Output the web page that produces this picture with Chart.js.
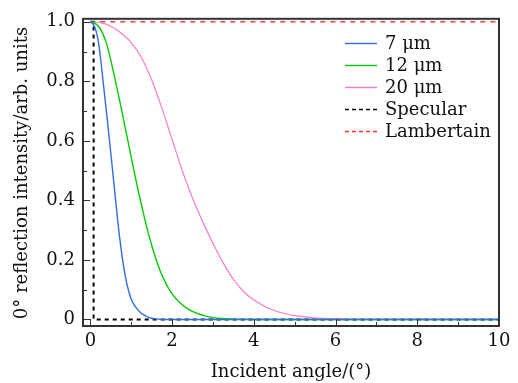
<!DOCTYPE html>
<html>
<head>
<meta charset="utf-8">
<script src="https://cdn.jsdelivr.net/npm/chart.js@4/dist/chart.umd.min.js"></script>
<style>
  html, body { margin: 0; padding: 0; background: #fff; }
  #wrap { width: 518px; height: 383px; }
</style>
</head>
<body>
<div id="wrap"><canvas id="c" width="518" height="383"></canvas></div>
<script>
// ---- data ----
const angles7 = [0, 0.1, 0.2, 0.3, 0.4, 0.5, 0.6, 0.7, 0.8, 0.9, 1.0, 1.1, 1.2, 1.3, 1.4, 1.5, 1.6, 1.8, 2.0, 10];
const intensity7 = [1.0, 0.985, 0.93, 0.815, 0.69, 0.56, 0.425, 0.295, 0.19, 0.115, 0.068, 0.043, 0.027, 0.016, 0.009, 0.004, 0.002, 0.0, 0.0, 0.0];

const angles12 = [0, 0.2, 0.4, 0.6, 0.8, 1.0, 1.2, 1.4, 1.6, 1.8, 2.0, 2.2, 2.4, 2.6, 2.8, 3.0, 3.2, 3.5, 4.0, 10];
const intensity12 = [1.0, 0.985, 0.925, 0.81, 0.68, 0.545, 0.415, 0.3, 0.205, 0.134, 0.086, 0.055, 0.034, 0.021, 0.012, 0.006, 0.003, 0.001, 0.0, 0.0];

const angles20 = [0, 0.25, 0.5, 0.75, 1.0, 1.25, 1.5, 1.75, 2.0, 2.25, 2.5, 2.75, 3.0, 3.25, 3.5, 3.75, 4.0, 4.25, 4.5, 4.75, 5.0, 5.5, 6.0, 6.5, 7.0, 10];
const intensity20 = [1.0, 0.997, 0.985, 0.962, 0.93, 0.88, 0.805, 0.71, 0.605, 0.50, 0.408, 0.328, 0.256, 0.19, 0.135, 0.094, 0.065, 0.045, 0.030, 0.020, 0.013, 0.005, 0.0018, 0.0005, 0.0, 0.0];

const anglesSpecular = [0, 0.08, 0.08, 10];
const intensitySpecular = [1, 1, 0, 0];

const anglesLambert = [0, 10];
const intensityLambert = [1, 1];

const seriesLabels = ['7 μm', '12 μm', '20 μm', 'Specular', 'Lambertain'];

const xMajorTicks = [0, 2, 4, 6, 8, 10];
const xMinorTicks = [1, 3, 5, 7, 9];
const yMajorTicks = [0, 0.2, 0.4, 0.6, 0.8, 1.0];
const yTickLabels = ['0', '0.2', '0.4', '0.6', '0.8', '1.0'];
const yMinorTicks = [0.1, 0.3, 0.5, 0.7, 0.9];

const xTitle = 'Incident angle/(°)';
const yTitle = '0° reflection intensity/arb. units';

// ---- build ----
const FONT = 'DejaVu Serif';
const FS = 18;
const toPts = (xs, ys) => xs.map((x, i) => ({ x: x, y: ys[i] }));

const datasets = [
  { label: seriesLabels[0], data: toPts(angles7, intensity7), borderColor: '#2f6fe0', borderWidth: 1.4, cubicInterpolationMode: 'monotone' },
  { label: seriesLabels[1], data: toPts(angles12, intensity12), borderColor: '#00cc00', borderWidth: 1.4, cubicInterpolationMode: 'monotone' },
  { label: seriesLabels[2], data: toPts(angles20, intensity20), borderColor: '#ff7ac4', borderWidth: 1.2, cubicInterpolationMode: 'monotone' },
  { label: seriesLabels[3], data: toPts(anglesSpecular, intensitySpecular), borderColor: '#000000', borderWidth: 2, borderDash: [4, 4], tension: 0 },
  { label: seriesLabels[4], data: toPts(anglesLambert, intensityLambert), borderColor: '#ff3030', borderWidth: 1.4, borderDash: [5, 5], tension: 0 }
].map(d => Object.assign({ pointRadius: 0, fill: false }, d));

const framePlugin = {
  id: 'frame',
  afterDraw(chart) {
    const ctx = chart.ctx, a = chart.chartArea;
    const xs = chart.scales.x, ys = chart.scales.y;
    ctx.save();
    ctx.strokeStyle = '#333';
    ctx.lineWidth = 1;
    const tick = (v, len, horiz) => {
      ctx.beginPath();
      if (horiz) {
        const px = Math.round(xs.getPixelForValue(v)) + 0.5;
        ctx.moveTo(px, a.bottom); ctx.lineTo(px, a.bottom - len);
      } else {
        const py = Math.round(ys.getPixelForValue(v)) + 0.5;
        ctx.moveTo(a.left, py); ctx.lineTo(a.left + len, py);
      }
      ctx.stroke();
    };
    xMajorTicks.forEach(v => tick(v, 7, true));
    xMinorTicks.forEach(v => tick(v, 4, true));
    yMajorTicks.forEach(v => tick(v, 7, false));
    yMinorTicks.forEach(v => tick(v, 4, false));
    ctx.lineWidth = 2;
    ctx.strokeRect(a.left, a.top, a.right - a.left, a.bottom - a.top);

    // y-axis title
    ctx.fillStyle = '#111';
    ctx.font = FS + 'px "' + FONT + '"';
    ctx.textAlign = 'center';
    ctx.textBaseline = 'middle';
    ctx.translate(22, 173);
    ctx.rotate(-Math.PI / 2);
    ctx.fillText(yTitle, 0, 0);
    ctx.restore();
  }
};

const legendPlugin = {
  id: 'innerLegend',
  afterDraw(chart) {
    const ctx = chart.ctx;
    const x0 = 345, x1 = 377, tx = 385;
    const y0 = 43, dy = 22;
    ctx.save();
    ctx.font = FS + 'px "' + FONT + '"';
    ctx.textBaseline = 'middle';
    chart.data.datasets.forEach((d, i) => {
      const y = Math.round(y0 + i * dy) + 0.5;
      ctx.beginPath();
      ctx.strokeStyle = d.borderColor;
      ctx.lineWidth = 1.4;
      ctx.setLineDash(d.borderDash ? [4, 3] : []);
      ctx.moveTo(x0, y); ctx.lineTo(x1, y);
      ctx.stroke();
      ctx.setLineDash([]);
      ctx.fillStyle = '#111';
      ctx.fillText(d.label, tx, y + 1);
    });
    ctx.restore();
  }
};

new Chart(document.getElementById('c'), {
  type: 'line',
  data: { datasets: datasets },
  options: {
    responsive: false,
    animation: false,
    layout: { padding: { top: 9, right: 19, left: 0, bottom: 0 } },
    plugins: { legend: { display: false }, tooltip: { enabled: false } },
    scales: {
      x: {
        type: 'linear', min: -0.18, max: 10,
        grid: { display: false, drawTicks: false },
        border: { display: false },
        afterFit(s) { s.height = 57; },
        afterBuildTicks(s) { s.ticks = xMajorTicks.map(v => ({ value: v })); },
        ticks: { color: '#111', padding: 5, font: { family: FONT, size: FS }, maxRotation: 0, autoSkip: false, callback: v => String(v) },
        title: { display: true, text: xTitle, color: '#111', font: { family: FONT, size: FS }, padding: { top: 6, bottom: 0 } }
      },
      y: {
        type: 'linear', min: -0.022, max: 1.01,
        grid: { display: false, drawTicks: false },
        border: { display: false },
        afterFit(s) { s.width = 83; },
        afterBuildTicks(s) { s.ticks = yMajorTicks.map(v => ({ value: v })); },
        ticks: { color: '#111', padding: 8, font: { family: FONT, size: FS }, autoSkip: false, callback: (v) => yTickLabels[yMajorTicks.findIndex(t => Math.abs(t - v) < 1e-9)] },
        title: { display: false }
      }
    }
  },
  plugins: [framePlugin, legendPlugin]
});
</script>
</body>
</html>
